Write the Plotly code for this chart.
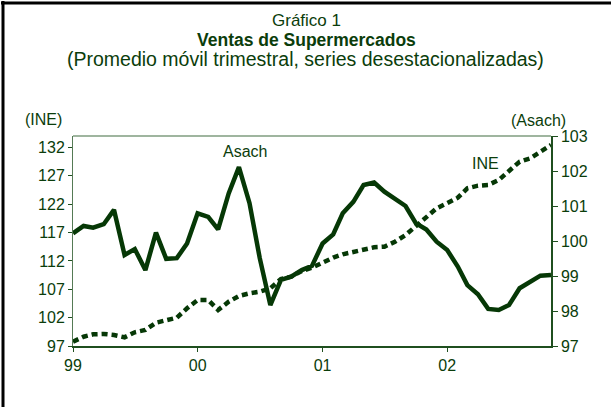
import plotly.graph_objects as go

# ---- data (monthly, Jan 1999 - Nov 2002) ----
months = [f"{y}-{m:02d}-01" for y in range(1999, 2003) for m in range(1, 13)][:47]

ine = [97.76, 98.64, 99.06, 99.12, 98.94, 98.53, 99.42, 99.82, 101.11, 101.58,
       101.99, 103.65, 105.11, 105.11, 103.35, 104.81, 105.82, 106.29, 106.57, 107.17,
       108.81, 109.22, 110.23, 110.81, 111.72, 112.57, 113.17, 113.63, 114.10, 114.40,
       114.51, 115.39, 116.57, 118.04, 119.80, 121.28, 122.20, 123.15, 124.81, 125.27,
       125.39, 126.27, 127.86, 129.50, 130.10, 131.16, 132.44]

asach = [100.22, 100.43, 100.38, 100.48, 100.89, 99.60, 99.77, 99.17, 100.24, 99.49,
         99.51, 99.93, 100.79, 100.69, 100.33, 101.36, 102.11, 101.08, 99.51, 98.17,
         98.89, 98.98, 99.17, 99.29, 99.93, 100.19, 100.79, 101.12, 101.60, 101.67,
         101.41, 101.20, 101.00, 100.51, 100.33, 99.98, 99.74, 99.27, 98.74, 98.48,
         98.06, 98.03, 98.17, 98.65, 98.84, 99.01, 99.03]

x_tickvals = ["1999-01-01", "2000-01-01", "2001-01-01", "2002-01-01"]
x_ticktext = ["99", "00", "01", "02"]
left_ticks = [97, 102, 107, 112, 117, 122, 127, 132]
right_ticks = [97, 98, 99, 100, 101, 102, 103]

LINE = "#063806"
TEXT = "#0b3d0b"
AXIS = "#1f4f1f"
FONT = "Liberation Sans, Arial, sans-serif"
TICK = 16

fig = go.Figure()
fig.add_trace(go.Scatter(x=months, y=ine, mode="lines", name="INE",
                         line=dict(color=LINE, width=4.5, dash="6px,4px"),
                         yaxis="y"))
fig.add_trace(go.Scatter(x=months, y=asach, mode="lines", name="Asach",
                         line=dict(color=LINE, width=4.5),
                         yaxis="y2"))

fig.update_layout(
    width=611, height=407,
    margin=dict(l=73, r=60, t=136, b=61),
    paper_bgcolor="white", plot_bgcolor="white",
    showlegend=False,
    font=dict(family=FONT, color=TEXT, size=TICK),
    xaxis=dict(type="date", range=["1999-01-01", "2002-11-01"],
               tickvals=x_tickvals, ticktext=x_ticktext,
               showgrid=False, zeroline=False,
               showline=True, linecolor=AXIS, linewidth=1.5,
               ticks="outside", ticklen=4, tickcolor=AXIS,
               tickfont=dict(size=TICK, color=TEXT, family=FONT)),
    yaxis=dict(range=[97, 134.03], tickvals=left_ticks,
               showgrid=False, zeroline=False,
               showline=True, linecolor="#557a55", linewidth=1,
               ticks="outside", ticklen=4, tickcolor=AXIS,
               tickfont=dict(size=TICK, color=TEXT, family=FONT)),
    yaxis2=dict(range=[97, 103], tickvals=right_ticks, overlaying="y", side="right",
                showgrid=False, zeroline=False,
                showline=True, linecolor=AXIS, linewidth=1.5,
                ticks="outside", ticklen=5, tickcolor=AXIS,
                tickfont=dict(size=TICK, color=TEXT, family=FONT)),
)

def px_x(px):
    return (px - 73) / 478.0

def px_y(py):
    return (346 - py) / 210.0

anns = [
    dict(text="Gráfico 1", x=px_x(306), y=px_y(20.5), size=17),
    dict(text="<b>Ventas de Supermercados</b>", x=px_x(306), y=px_y(40), size=17.5),
    dict(text="(Promedio móvil trimestral, series desestacionalizadas)", x=px_x(305), y=px_y(59), size=19.5),
    dict(text="(INE)", x=px_x(43), y=px_y(119), size=16),
    dict(text="(Asach)", x=px_x(538), y=px_y(120), size=16),
    dict(text="Asach", x=px_x(245), y=px_y(151), size=16),
    dict(text="INE", x=px_x(485), y=px_y(163), size=16),
]
for a in anns:
    fig.add_annotation(text=a["text"], x=a["x"], y=a["y"], xref="paper", yref="paper",
                       xanchor="center", yanchor="middle", showarrow=False,
                       font=dict(size=a["size"], color=TEXT, family=FONT))

# top border of plot area
fig.add_shape(type="line", xref="paper", yref="paper", x0=0, x1=1, y0=1, y1=1,
              line=dict(color="#7f9c7f", width=1.5))
# outer frame (left and top)
fig.add_shape(type="line", xref="paper", yref="paper", x0=px_x(3), x1=px_x(3),
              y0=px_y(1), y1=px_y(410), line=dict(color="black", width=3))
fig.add_shape(type="line", xref="paper", yref="paper", x0=px_x(1), x1=px_x(612),
              y0=px_y(3), y1=px_y(3), line=dict(color="black", width=3))

fig.write_html("out.html", config={"displayModeBar": False},
               post_script="document.body.style.margin='0px';")
